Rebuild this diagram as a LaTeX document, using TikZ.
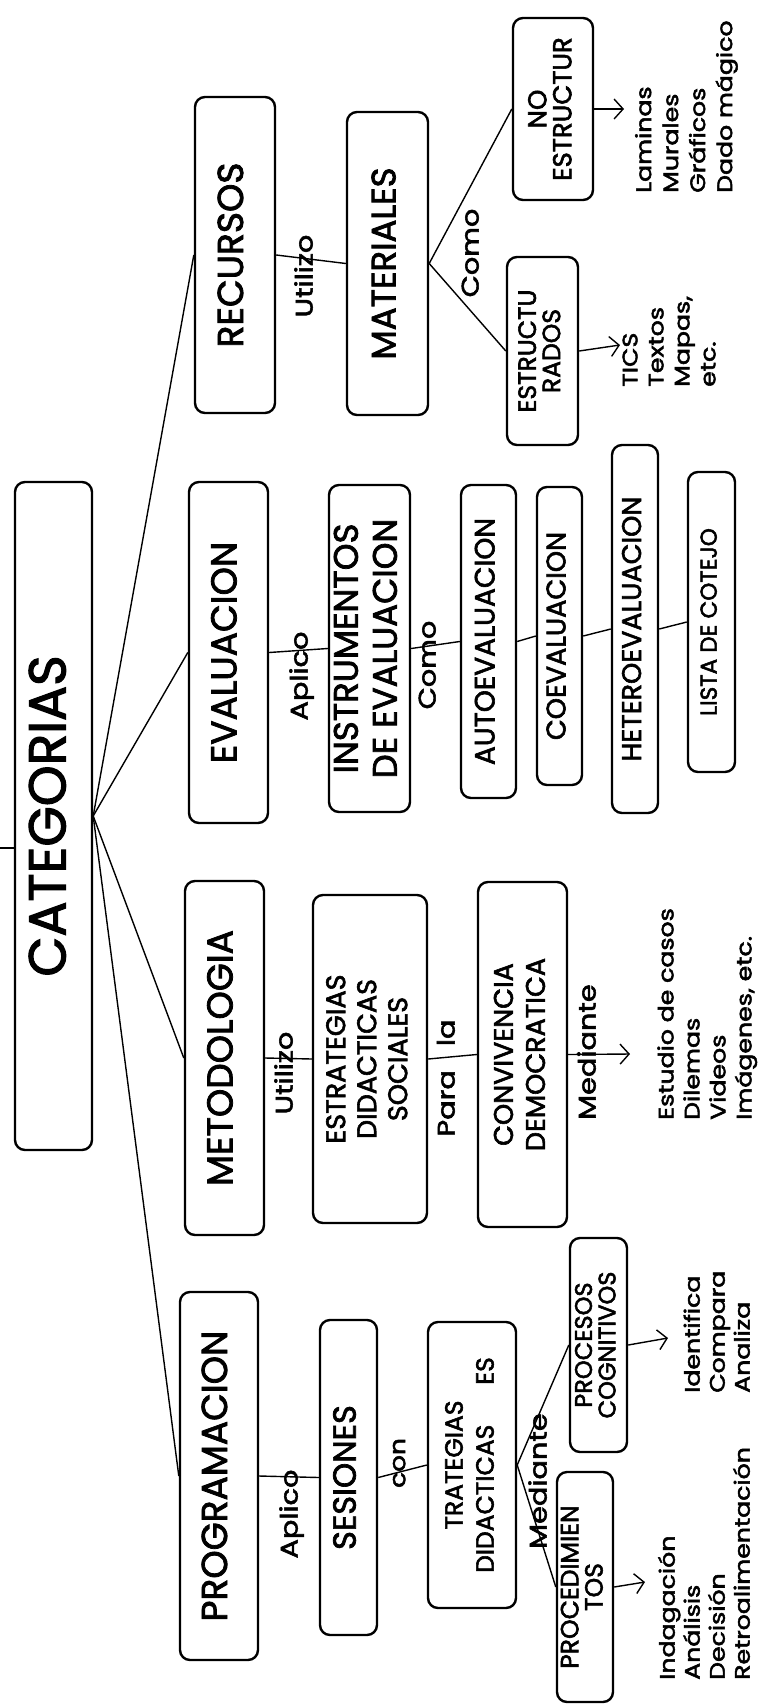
\documentclass[tikz,border=0pt]{standalone}
\usepackage{fontspec}
\setmainfont{Poppins}[FakeBold=2.2]
\usepackage{graphicx}
\usetikzlibrary{arrows.meta}
\newcommand{\vt}[4]{\rotatebox{90}{\fontsize{#1}{#2}\selectfont\begin{tabular}{@{}#3@{}}#4\end{tabular}}}
\newcommand{\vs}[4]{\rotatebox{90}{\scalebox{1.2}[1]{\fontsize{#1}{#2}\selectfont\begin{tabular}{@{}#3@{}}#4\end{tabular}}}}
\begin{document}
\begin{tikzpicture}[x=1pt,y=-1pt,
  box/.style={draw, rounded corners=10pt, line width=2.4pt, inner sep=0pt},
  conn/.style={line width=1.4pt},
  arr/.style={line width=1.4pt, -{Straight Barb[length=9pt,width=20pt]}},
  lab/.style={inner sep=0pt},
  lst/.style={inner sep=0pt, anchor=south west}]
\useasboundingbox (0,0) rectangle (763,1708);
% boxes
\node[box, minimum width=77pt, minimum height=668pt] (cat) at (53.5,816) {\vt{52}{60}{c}{CATEGORIAS}};
\node[box, minimum width=80pt, minimum height=316pt] (rec) at (235,255) {\vt{36}{40}{c}{RECURSOS}};
\node[box, minimum width=81pt, minimum height=303pt] (mat) at (387.5,263.5) {\vt{34}{40}{c}{MATERIALES}};
\node[box, minimum width=80pt, minimum height=182pt] (noe) at (553,109) {\vt{26}{22}{c}{NO\\ESTRUCTUR}};
\node[box, minimum width=71pt, minimum height=188pt] (est) at (542.5,351) {\vt{25}{22}{c}{ESTRUCTU\\RADOS}};
\node[box, minimum width=79pt, minimum height=341pt] (eval) at (228.5,652.5) {\vt{36}{40}{c}{EVALUACION}};
\node[box, minimum width=81pt, minimum height=327pt] (ins) at (369.5,648.5) {\vt{34}{39}{c}{INSTRUMENTOS\\DE EVALUACION}};
\node[box, minimum width=55pt, minimum height=313pt] (auto) at (488.5,641.5) {\vt{28}{30}{c}{AUTOEVALUACION}};
\node[box, minimum width=45pt, minimum height=298pt] (co) at (559.5,636) {\vt{27}{30}{c}{COEVALUACION}};
\node[box, minimum width=46pt, minimum height=368pt] (het) at (635,629) {\vt{27}{30}{c}{HETEROEVALUACION}};
\node[box, minimum width=47pt, minimum height=300pt] (lis) at (711.5,622) {\vt{23}{26}{c}{LISTA DE COTEJO}};
\node[box, minimum width=79pt, minimum height=354pt] (met) at (224.5,1058) {\vt{36}{40}{c}{METODOLOGIA}};
\node[box, minimum width=114pt, minimum height=328pt] (estr) at (370,1059) {\vt{27}{31}{c}{ESTRATEGIAS\\DIDACTICAS\\SOCIALES}};
\node[box, minimum width=89pt, minimum height=345pt] (conv) at (522.5,1054.5) {\vt{27}{32}{c}{CONVIVENCIA\\DEMOCRATICA}};
\node[box, minimum width=78pt, minimum height=368pt] (prog) at (219,1476) {\vt{36}{40}{c}{PROGRAMACION}};
\node[box, minimum width=57pt, minimum height=315pt] (ses) at (348.5,1477.5) {\vt{32}{36}{c}{SESIONES}};
\node[box, minimum width=88pt, minimum height=286pt] (trat) at (472,1465) {\vt{25}{31}{c}{TRATEGIAS\\DIDACTICAS\hspace{40pt}ES}};
\node[box, minimum width=57pt, minimum height=214pt] (pc) at (598.5,1345) {\vt{24}{22}{c}{PROCESOS\\COGNITIVOS}};
\node[box, minimum width=56pt, minimum height=230pt] (pr) at (585,1587) {\vt{25}{22}{c}{PROCEDIMIEN\\TOS}};
% fan from CATEGORIAS
\draw[conn] (cat.east) -- (rec.west);
\draw[conn] (cat.east) -- (eval.west);
\draw[conn] (cat.east) -- (met.west);
\draw[conn] (cat.east) -- (prog.west);
\coordinate (stub) at (0,848);
\draw[conn] (stub) -- (stub -| cat.west);
% RECURSOS branch
\draw[conn] (rec.east) -- (mat.west);
\draw[conn] (mat.east) -- (noe.west);
\draw[conn] (mat.east) -- (est.west);
\coordinate (noeA) at (624,109);
\coordinate (estA) at (620,345);
\draw[arr] (noe.east) -- (noeA);
\draw[arr] (est.east) -- (estA);
\node[lab] (l1) at (307,276) {\vs{24}{28}{c}{Utilizo}};
\node[lab] (l2) at (473,253) {\vs{24}{28}{c}{Como}};
\node[lst] (t1) at (632,193) {\vs{21}{27}{l}{Laminas\\Murales\\Gráficos\\Dado mágico}};
\node[lst] (t2) at (619,387) {\vs{21}{26}{l}{TICS\\Textos\\Mapas,\\etc.}};
% EVALUACION branch
\draw[conn] (eval.east) -- (ins.west);
\draw[conn] (ins.east) -- (auto.west);
\draw[conn] (auto.east) -- (co.west);
\draw[conn] (co.east) -- (het.west);
\draw[conn] (het.east) -- (lis.west);
\node[lab] (l3) at (302,676) {\vs{24}{28}{c}{Aplico}};
\node[lab] (l4) at (430,665) {\vs{24}{28}{c}{Como}};
% METODOLOGIA branch
\draw[conn] (met.east) -- (estr.west);
\draw[conn] (estr.east) -- (conv.west);
\coordinate (convA) at (630,1054);
\draw[arr] (conv.east) -- (convA);
\node[lab] (l5) at (287,1073) {\vs{24}{28}{c}{Utilizo}};
\node[lab] (l6) at (449,1078) {\vs{24}{28}{c}{Para\hspace{20pt}la}};
\node[lab] (l7) at (590,1052) {\vs{24}{28}{c}{Mediante}};
\node[lst] (t3) at (655,1120) {\vs{21}{26}{l}{Estudio de casos\\Dilemas\\Videos\\Imágenes, etc.}};
% PROGRAMACION branch
\draw[conn] (prog.east) -- (ses.west);
\draw[conn] (ses.east) -- (trat.west);
\draw[conn] (trat.east) -- (pc.west);
\draw[conn] (trat.east) -- (pr.west);
\coordinate (pcA) at (668,1338);
\coordinate (prA) at (645,1582);
\draw[arr] (pc.east) -- (pcA);
\draw[arr] (pr.east) -- (prA);
\node[lab] (l8) at (292,1514) {\vs{24}{28}{c}{Aplico}};
\node[lab] (l9) at (400,1463) {\vs{22}{26}{c}{con}};
\node[lab] (l10) at (541,1481) {\vs{24}{28}{c}{Mediante}};
\node[lst] (t4) at (682,1393) {\vs{21}{25}{l}{Identifica\\Compara\\Analiza}};
\node[lst] (t5) at (657,1680) {\vs{21}{25}{l}{Indagación\\Análisis\\Decisión\\Retroalimentación}};
\end{tikzpicture}
\end{document}
